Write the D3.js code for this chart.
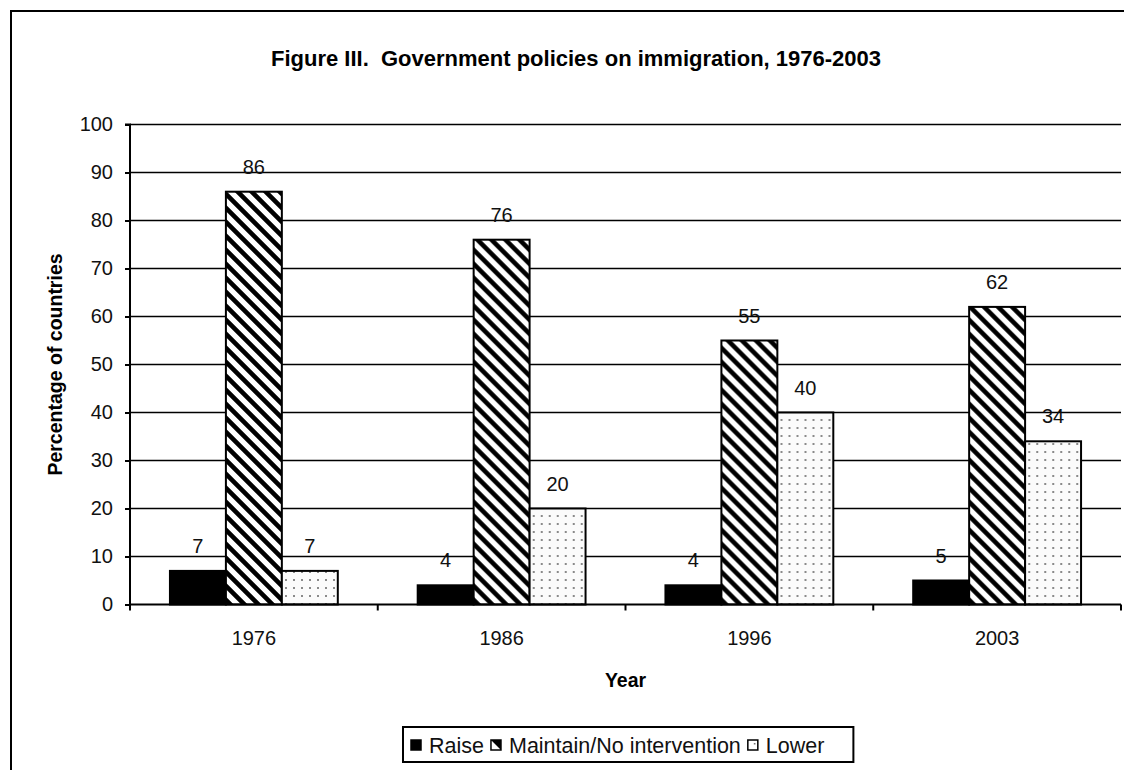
<!DOCTYPE html>
<html>
<head>
<meta charset="utf-8">
<script src="https://cdn.jsdelivr.net/npm/d3@7"></script>
<style>
  html, body { margin: 0; padding: 0; background: #fff; }
  svg { display: block; font-family: "Liberation Sans", Arial, sans-serif; }
  text { white-space: pre; }
</style>
</head>
<body>
<svg id="chart" width="1124" height="770"></svg>
<script>
const years = ["1976", "1986", "1996", "2003"];
const seriesNames = ["Raise", "Maintain/No intervention", "Lower"];
const raise = [7, 4, 4, 5];
const maintain = [86, 76, 55, 62];
const lower = [7, 20, 40, 34];
const yTicks = [0, 10, 20, 30, 40, 50, 60, 70, 80, 90, 100];
const titleText = "Figure III.  Government policies on immigration, 1976-2003";
const xTitle = "Year";
const yTitle = "Percentage of countries";

const seriesValues = [raise, maintain, lower];
const fills = ["#000", "url(#hatch)", "url(#dots)"];
const FS = 19.5;
const FONT = "Liberation Sans, Arial, sans-serif";

const svg = d3.select("#chart");
const defs = svg.append("defs");

// diagonal hatch pattern
const hatch = defs.append("pattern").attr("id", "hatch")
  .attr("patternUnits", "userSpaceOnUse").attr("width", 14).attr("height", 14);
hatch.append("rect").attr("width", 14).attr("height", 14).attr("fill", "#fff");
hatch.append("path").attr("d", "M-4,-4 L18,18 M-4,10 L4,18 M10,-4 L18,4")
  .attr("stroke", "#000").attr("stroke-width", 4.6);

// dotted pattern
const dots = defs.append("pattern").attr("id", "dots")
  .attr("patternUnits", "userSpaceOnUse").attr("width", 8).attr("height", 8);
dots.append("rect").attr("width", 8).attr("height", 8).attr("fill", "#fbfbfb");
dots.append("rect").attr("x", 3).attr("y", 3).attr("width", 2).attr("height", 2).attr("fill", "#8a8a8a");

// outer frame
svg.append("path").attr("d", "M11,780 L11,11 L1140,11")
  .attr("fill", "none").attr("stroke", "#000").attr("stroke-width", 2);

const pLeft = 130, pRight = 1121, pTop = 124.5, pBottom = 604.5;
const x0 = d3.scaleBand().domain(years).range([pLeft, pRight]).paddingInner(0).paddingOuter(0);
const x1 = d3.scaleBand().domain(d3.range(3)).range([0, x0.bandwidth()]).paddingInner(0).paddingOuter(0.714);
const y = d3.scaleLinear().domain([0, 100]).range([pBottom, pTop]);

// gridlines
svg.append("g").selectAll("line").data(yTicks.filter(t => t > 0)).join("line")
  .attr("x1", pLeft).attr("x2", pRight)
  .attr("y1", d => y(d)).attr("y2", d => y(d))
  .attr("stroke", "#000").attr("stroke-width", 1.5);

// bars
const groups = svg.append("g").selectAll("g").data(years).join("g")
  .attr("transform", d => `translate(${x0(d)},0)`);
groups.selectAll("rect").data((d, i) => seriesValues.map((s, k) => ({k, v: s[i]}))).join("rect")
  .attr("x", d => x1(d.k)).attr("width", x1.bandwidth())
  .attr("y", d => y(d.v)).attr("height", d => y(0) - y(d.v))
  .attr("fill", d => fills[d.k]).attr("stroke", "#000").attr("stroke-width", 2);

// data labels
groups.selectAll("text").data((d, i) => seriesValues.map((s, k) => ({k, v: s[i]}))).join("text")
  .attr("x", d => x1(d.k) + x1.bandwidth() / 2)
  .attr("y", d => y(d.v) - 18)
  .attr("text-anchor", "middle").attr("font-size", 20).attr("fill", "#111")
  .text(d => d.v);

// y axis
const yAxis = svg.append("g").attr("transform", `translate(${pLeft},0)`)
  .call(d3.axisLeft(y).tickValues(yTicks).tickSize(5).tickPadding(12).tickFormat(d3.format("d")));
yAxis.select(".domain").attr("stroke", "#000").attr("stroke-width", 2).attr("d", `M-5,${pTop}H0V${pBottom}`);
yAxis.selectAll(".tick line").attr("stroke", "#000").attr("stroke-width", 2);
yAxis.selectAll(".tick text").attr("font-size", 20).attr("fill", "#111").attr("font-family", FONT);

// x axis
const xAxis = svg.append("g").attr("transform", `translate(0,${pBottom})`)
  .call(d3.axisBottom(x0).tickSize(0).tickPadding(26));
xAxis.select(".domain").attr("stroke", "#000").attr("stroke-width", 2).attr("d", `M${pLeft},0H${pRight}`);
xAxis.selectAll(".tick text").attr("font-size", 20).attr("fill", "#111").attr("font-family", FONT);
const bounds = years.map(d => x0(d)).concat([pRight]);
xAxis.selectAll(".bound").data(bounds).join("line").attr("class", "bound")
  .attr("x1", d => d).attr("x2", d => d).attr("y1", 0).attr("y2", 6)
  .attr("stroke", "#000").attr("stroke-width", 2);

// titles
svg.append("text").attr("x", 576).attr("y", 66).attr("text-anchor", "middle")
  .attr("font-size", 22).attr("font-weight", "bold").text(titleText);
svg.append("text").attr("x", (pLeft + pRight) / 2).attr("y", 687).attr("text-anchor", "middle")
  .attr("font-size", FS).attr("font-weight", "bold").text(xTitle);
svg.append("text").attr("transform", `translate(62,${(pTop + pBottom) / 2}) rotate(-90)`)
  .attr("text-anchor", "middle").attr("font-size", FS).attr("font-weight", "bold").text(yTitle);

// legend
const LFS = 21.5;
const lg = svg.append("g");
const lgBox = lg.append("rect").attr("x", 403).attr("y", 727).attr("height", 35)
  .attr("fill", "#fff").attr("stroke", "#000").attr("stroke-width", 2);
let cx = 411;
const legendFills = ["#000", "url(#hatchS)", "url(#dotsS)"];
const hatchS = defs.append("pattern").attr("id", "hatchS")
  .attr("patternUnits", "objectBoundingBox").attr("width", 1).attr("height", 1);
hatchS.append("rect").attr("width", 10).attr("height", 10).attr("fill", "#fff");
hatchS.append("path").attr("d", "M0,0 L10,0 L10,10 Z").attr("fill", "#000");
const dotsS = defs.append("pattern").attr("id", "dotsS")
  .attr("patternUnits", "objectBoundingBox").attr("width", 1).attr("height", 1);
dotsS.append("rect").attr("width", 10).attr("height", 10).attr("fill", "#fff");
dotsS.append("rect").attr("x", 6).attr("y", 3).attr("width", 1.5).attr("height", 1.5).attr("fill", "#666");
seriesNames.forEach((name, k) => {
  lg.append("rect").attr("x", cx).attr("y", 740).attr("width", 10).attr("height", 10)
    .attr("fill", legendFills[k]).attr("stroke", "#000").attr("stroke-width", 1.5);
  const t = lg.append("text").attr("x", cx + 18).attr("y", 752.5).attr("font-size", LFS).attr("fill", "#111").text(name);
  const w = t.node().getComputedTextLength();
  cx = cx + 18 + w + 7;
});
lgBox.attr("width", cx - 403 + 22);
</script>
</body>
</html>
